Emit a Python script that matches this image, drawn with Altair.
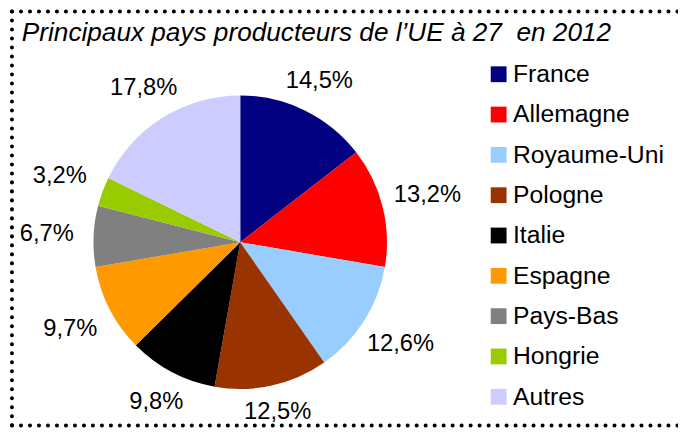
import altair as alt
import pandas as pd

countries = ["France", "Allemagne", "Royaume-Uni", "Pologne", "Italie",
             "Espagne", "Pays-Bas", "Hongrie", "Autres"]
shares = [14.5, 13.2, 12.6, 12.5, 9.8, 9.7, 6.7, 3.2, 17.8]
colors = ["#000080", "#FF0000", "#99CCFF", "#993300", "#000000",
          "#FF9900", "#808080", "#99CC00", "#CCCCFF"]
title_text = "Principaux pays producteurs de l\u2019UE à 27\u00a0 en 2012"

df = pd.DataFrame({"pays": countries, "part": shares, "ordre": list(range(len(countries)))})
df["label"] = [f"{v:.1f}".replace(".", ",") + "%" for v in shares]

CX, CY, R = 235, 234.5, 148.5
FONT = "Liberation Sans"

base = alt.Chart(df)

pie = base.mark_arc(outerRadius=R).encode(
    theta=alt.Theta("part:Q", stack=True),
    order=alt.Order("ordre:Q"),
    color=alt.Color(
        "pays:N", sort=countries,
        scale=alt.Scale(domain=countries, range=colors),
        legend=alt.Legend(
            title=None, orient="none", legendX=484, legendY=52,
            symbolType="square", symbolSize=256, symbolStrokeWidth=0,
            symbolOpacity=1,
            labelFont=FONT, labelFontSize=25, labelColor="black",
            rowPadding=14.8, labelOffset=2, padding=0,
        ),
    ),
    x=alt.value(CX), y=alt.value(CY),
)

labels = base.transform_joinaggregate(
    total="sum(part)"
).transform_window(
    cum="sum(part)", sort=[alt.SortField("ordre")], frame=[None, 0]
).transform_calculate(
    mid="2*PI*(datum.cum - datum.part/2)/datum.total"
).transform_calculate(
    r="171 + 25*abs(sin(datum.mid))"
).transform_calculate(
    lx=f"{CX} + datum.r*sin(datum.mid)",
    ly=f"{CY} - datum.r*cos(datum.mid)",
).mark_text(font=FONT, fontSize=24, align="center", baseline="middle", color="black").encode(
    x=alt.X("lx:Q", scale=None),
    y=alt.Y("ly:Q", scale=None),
    text="label:N",
)

one = pd.DataFrame({"k": [0]})
title = alt.Chart(one).mark_text(
    font=FONT, fontSize=26.5, fontStyle="italic", align="left",
    baseline="alphabetic", color="black"
).encode(x=alt.value(14), y=alt.value(31), text=alt.value(title_text))

dot = dict(strokeDash=[0.1, 9], strokeCap="round", strokeWidth=4, color="black")
top = alt.Chart(one).mark_rule(**dot).encode(x=alt.value(4), x2=alt.value(700), y=alt.value(1))
left = alt.Chart(one).mark_rule(**dot).encode(x=alt.value(4), y=alt.value(1), y2=alt.value(420))
bottom = alt.Chart(one).mark_rule(**dot).encode(x=alt.value(4), x2=alt.value(700), y=alt.value(420))

chart = alt.layer(pie, labels, title, top, left, bottom).properties(
    width=678, height=424, autosize=alt.AutoSizeParams(type="none"), padding=0,
    background="white",
).configure_view(stroke=None)

chart.save("out.html", embed_options={"renderer": "svg", "actions": False})
